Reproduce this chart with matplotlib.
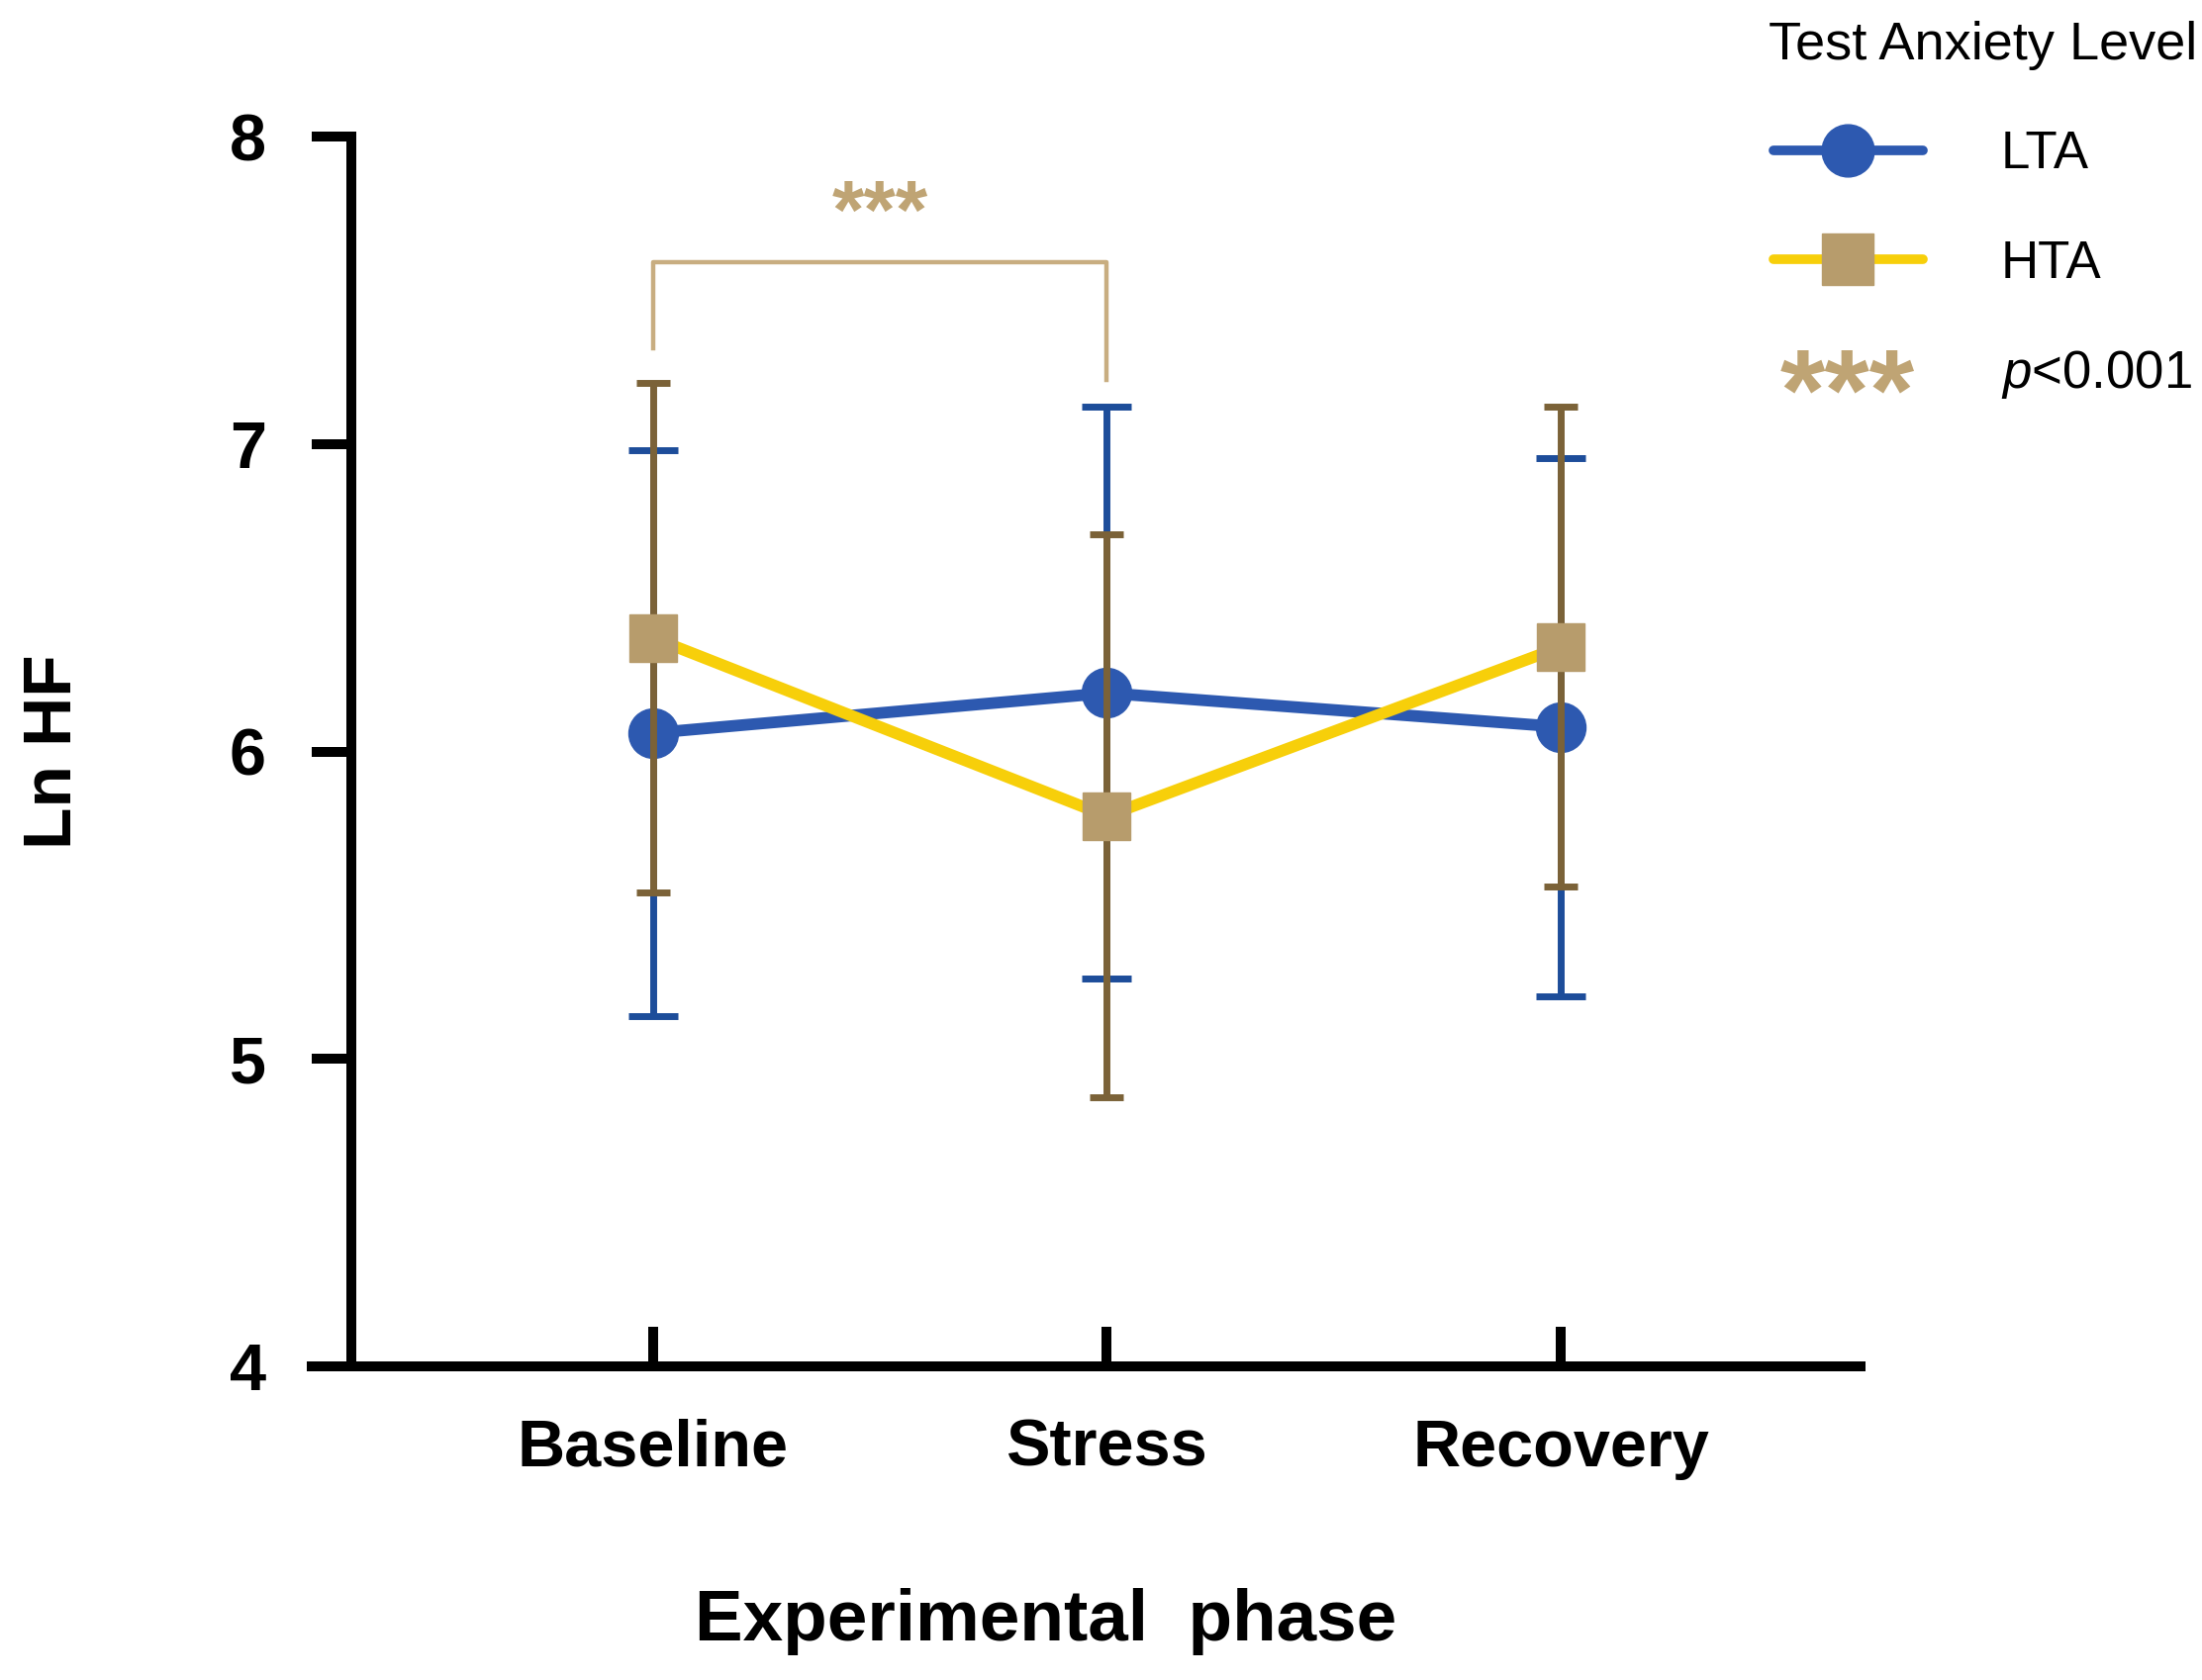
import matplotlib
matplotlib.use("Agg")
import matplotlib.pyplot as plt
from matplotlib.lines import Line2D
from matplotlib.text import Text
from matplotlib.legend_handler import HandlerBase

# Données
phases = ["Baseline", "Stress", "Recovery"]
lta_mean = [6.06, 6.19, 6.08]
lta_sd = [0.92, 0.93, 0.875]
hta_mean = [6.37, 5.79, 6.34]
hta_sd = [0.83, 0.915, 0.78]

# crochet de significativité (Baseline vs Stress, HTA)
sig_x = [0, 0, 1, 1]
sig_y = [7.31, 7.59, 7.59, 7.21]
sig_star_y = 7.81

BLEU = "#2d59b0"
BLEU_ERR = "#1d4d9a"
JAUNE = "#f7cf0a"
BEIGE = "#b79c6c"
BRUN = "#7b6238"
CROCHET = "#c8ad80"
ETOILE = "#bfa474"

plt.rcParams["font.family"] = ["Liberation Sans", "DejaVu Sans"]
plt.rcParams["mathtext.fontset"] = "custom"
plt.rcParams["mathtext.it"] = "Liberation Sans:italic"
plt.rcParams["mathtext.rm"] = "Liberation Sans"


class StarHandler(HandlerBase):
    def __init__(self, size, color):
        super().__init__()
        self.size = size
        self.color = color

    def create_artists(self, legend, orig_handle, xdescent, ydescent,
                       width, height, fontsize, trans):
        t = Text(width / 2 - xdescent,
                 height / 2 - ydescent - 0.525 * self.size,
                 "***", ha="center", va="baseline", fontsize=self.size,
                 fontweight="bold", color=self.color)
        t.set_transform(trans)
        return [t]


fig = plt.figure(figsize=(22.25, 16.98), dpi=100)
ax = fig.add_axes([0.1416, 0.1867, 0.7033, 0.732])

x = list(range(len(phases)))

ax.errorbar(x, lta_mean, yerr=lta_sd, fmt="none", ecolor=BLEU_ERR,
            elinewidth=5, capsize=18, capthick=5, zorder=1)
ax.plot(x, lta_mean, color=BLEU, lw=8.5, marker="o", ms=36,
        mfc=BLEU, mec=BLEU, zorder=2)
ax.errorbar(x, hta_mean, yerr=hta_sd, fmt="none", ecolor=BRUN,
            elinewidth=5, capsize=12, capthick=5, zorder=3)
ax.plot(x, hta_mean, color=JAUNE, lw=8.5, zorder=4)
ax.plot(x, hta_mean, ls="none", marker="s", ms=35, mfc=BEIGE, mec=BEIGE,
        zorder=5)

ax.plot(sig_x, sig_y, color=CROCHET, lw=3.2, zorder=1)
ax.annotate("***", xy=(0.5, sig_star_y), xytext=(0, -0.525 * 60),
            textcoords="offset points", ha="center", va="baseline",
            fontsize=60, fontweight="bold", color=ETOILE)

ax.set_xlim(-0.751, 2.66)
ax.set_ylim(4, 8)
ax.set_yticks([4, 5, 6, 7, 8])
ax.set_xticks(x)
ax.set_xticklabels(phases)

ax.spines["top"].set_visible(False)
ax.spines["right"].set_visible(False)
ax.spines["left"].set_position(("data", -0.665))
for s in ("left", "bottom"):
    ax.spines[s].set_linewidth(7.2)
    ax.spines[s].set_capstyle("projecting")

ax.tick_params(axis="y", direction="out", length=28.8, width=7.2, pad=33,
               labelsize=48)
ax.tick_params(axis="x", direction="in", length=28.8, width=7.2, pad=38,
               labelsize=48)
for lab in ax.get_xticklabels() + ax.get_yticklabels():
    lab.set_fontweight("bold")

ax.set_ylabel("Ln HF", fontsize=50, fontweight="bold")
ax.yaxis.set_label_coords(-0.167, 0.5)
ax.yaxis.label.set_va("center")
ax.set_xlabel("Experimental  phase", fontsize=52.5, fontweight="bold")
ax.xaxis.set_label_coords(0.474, -0.2076)
ax.xaxis.label.set_va("center")

# légende
stars_key = object()
poignees = [
    Line2D([], [], color=BLEU, lw=7, marker="o", ms=38, mfc=BLEU, mec=BLEU,
           solid_capstyle="round"),
    Line2D([], [], color=JAUNE, lw=7, marker="s", ms=38, mfc=BEIGE, mec=BEIGE,
           solid_capstyle="round"),
    stars_key,
]
etiquettes = ["LTA", "HTA", "$p$<0.001"]
leg = ax.legend(poignees, etiquettes, title="Test Anxiety Level",
                handler_map={stars_key: StarHandler(84, ETOILE)},
                loc="upper left", bbox_to_anchor=(0.8030, 0.9875),
                bbox_transform=fig.transFigure, frameon=False, fontsize=38,
                title_fontsize=39, handlelength=2.86, handletextpad=1.5,
                labelspacing=1.14, borderpad=0, borderaxespad=0)

fig.savefig("out.png", dpi=100)
